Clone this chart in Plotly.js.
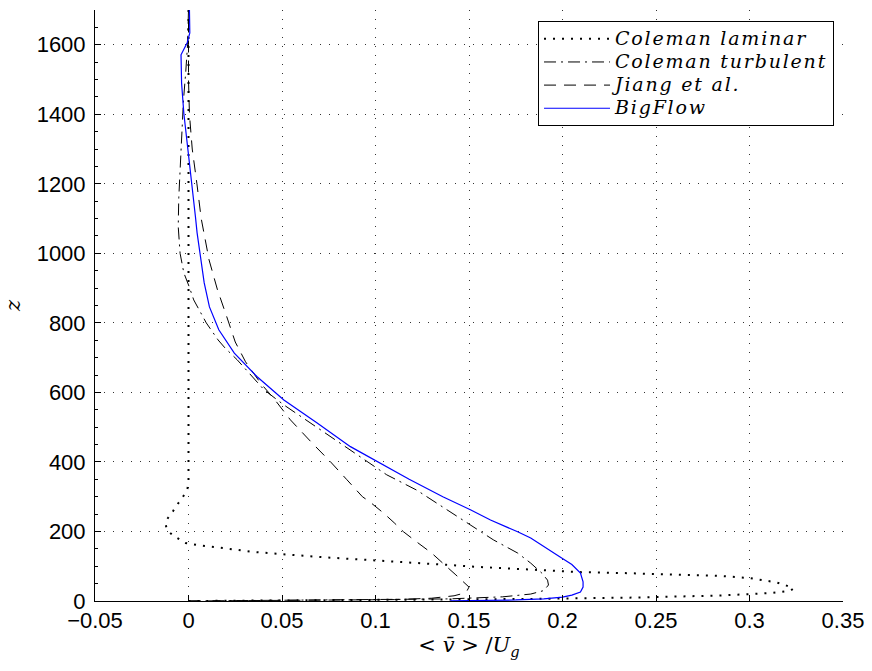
<!DOCTYPE html>
<html>
<head>
<meta charset="utf-8">
<script src="https://cdn.plot.ly/plotly-3.0.1.min.js"></script>
<style>html,body{margin:0;padding:0;background:#fff;}#chart{width:872px;height:671px;}</style>
</head>
<body>
<div id="chart"></div>
<script>
// Coleman laminar (dotted)
const zLaminar = [0, 3, 6, 10, 16, 23, 30, 36, 42, 48, 54, 60, 66, 72, 76, 80, 83, 88, 92, 98, 104, 110, 116, 121, 127, 135, 141, 152, 160, 167, 174, 181, 190, 199, 210, 224, 235, 247, 258, 270, 283, 296, 319, 340, 400, 500, 600, 700, 800, 900, 1000, 1100, 1200, 1300, 1400, 1500, 1600, 1700];
const vLaminar = [0, 0.1, 0.185, 0.24, 0.285, 0.312, 0.322, 0.3235, 0.321, 0.318, 0.314, 0.308, 0.300, 0.285, 0.265, 0.235, 0.21, 0.19, 0.174, 0.155, 0.138, 0.118, 0.104, 0.087, 0.069, 0.051, 0.035, 0.019, 0.006, -0.0016, -0.004, -0.006, -0.0085, -0.0105, -0.0118, -0.0123, -0.0115, -0.0096, -0.0083, -0.007, -0.005, -0.0034, -0.0007, 0, 0, 0, 0, 0, 0, 0, 0, 0, 0, 0, 0, 0, 0, 0];

// Coleman turbulent (dash-dot)
const zTurbulent = [0, 1.5, 3, 6, 12, 20, 30, 46, 60, 80, 109, 138, 176, 224, 270, 319, 363, 411, 443, 463, 500, 564, 607, 636, 665, 694, 728, 751, 800, 829, 866, 905, 944, 1000, 1077, 1160, 1260, 1350, 1440, 1520, 1600, 1700];
const vTurbulent = [0, 0.05, 0.1, 0.139, 0.168, 0.183, 0.19, 0.1925, 0.192, 0.189, 0.183, 0.176, 0.163, 0.149, 0.136, 0.122, 0.106, 0.093, 0.084, 0.079, 0.069, 0.051, 0.0405, 0.0355, 0.031, 0.026, 0.0195, 0.0158, 0.0095, 0.0064, 0.0028, 0.0003, -0.0025, -0.0045, -0.0055, -0.0052, -0.0043, -0.0035, -0.0027, -0.0015, -0.0005, 0];

// Jiang et al. (dashed)
const zJiang = [0, 1, 2, 4, 8, 15, 22, 30, 40, 56, 75, 99, 138, 170, 199, 225, 252, 285, 300, 350, 400, 455, 521, 580, 627, 688, 745, 817, 895, 981, 1100, 1200, 1300, 1400, 1500, 1600, 1700];
const vJiang = [0, 0.04, 0.08, 0.11, 0.13, 0.142, 0.147, 0.149, 0.150, 0.147, 0.143, 0.138, 0.130, 0.122, 0.115, 0.110, 0.1045, 0.097, 0.093, 0.0845, 0.076, 0.066, 0.0545, 0.046, 0.0385, 0.0305, 0.025, 0.0205, 0.0155, 0.011, 0.0068, 0.0045, 0.002, 0.0005, 0, 0, 0];

// BigFlow (solid blue)
const zBigFlow = [0.5, 1.5, 3, 6, 11, 17, 26, 40, 55, 80, 105, 127, 160, 181, 199, 233, 262, 300, 350, 391, 444, 512, 578, 645, 713, 780, 846, 915, 1000, 1059, 1106, 1205, 1298, 1403, 1490, 1571, 1606, 1634, 1700];
const vBigFlow = [0.14, 0.16, 0.175, 0.19, 0.2, 0.205, 0.2096, 0.211, 0.211, 0.2096, 0.205, 0.1985, 0.189, 0.183, 0.176, 0.1615, 0.151, 0.136, 0.118, 0.1045, 0.0866, 0.0688, 0.051, 0.0367, 0.0245, 0.0162, 0.0112, 0.0084, 0.006, 0.0046, 0.0037, 0.0015, -0.0003, -0.0025, -0.0037, -0.004, -0.0007, 0.0007, 0.0005];

const seriesNames = ['Coleman laminar', 'Coleman turbulent', 'Jiang et al.', 'BigFlow'];
const xTickVals = [-0.05, 0, 0.05, 0.1, 0.15, 0.2, 0.25, 0.3, 0.35];
const xTickText = ['\u22120.05', '0', '0.05', '0.1', '0.15', '0.2', '0.25', '0.3', '0.35'];
const yTickVals = [0, 200, 400, 600, 800, 1000, 1200, 1400, 1600];

function legName(s) {
  return '<span style="font-size:19px;font-style:italic;letter-spacing:1.8px">' + s + '</span>';
}

const traces = [
  {x: vLaminar, y: zLaminar, name: legName(seriesNames[0]), mode: 'lines',
   line: {color: '#000', width: 2, dash: '2px,7px'}},
  {x: vTurbulent, y: zTurbulent, name: legName(seriesNames[1]), mode: 'lines',
   line: {color: '#000', width: 1, dash: '12px,5px,2px,5px'}},
  {x: vJiang, y: zJiang, name: legName(seriesNames[2]), mode: 'lines',
   line: {color: '#000', width: 1, dash: '12px,8px'}},
  {x: vBigFlow, y: zBigFlow, name: legName(seriesNames[3]), mode: 'lines',
   line: {color: '#0000ff', width: 1.2}}
];

const layout = {
  width: 872, height: 671,
  margin: {l: 95, r: 29, t: 10, b: 70},
  paper_bgcolor: '#fff', plot_bgcolor: '#fff',
  font: {family: 'Liberation Sans, Arial, sans-serif', size: 22, color: '#000'},
  showlegend: true,
  legend: {
    x: 0.988, y: 0.981, xanchor: 'right', yanchor: 'top',
    bgcolor: '#fff', bordercolor: '#000', borderwidth: 1,
    font: {family: 'DejaVu Serif, serif', size: 15.5, color: '#000'},
    itemwidth: 66, tracegroupgap: 0
  },
  xaxis: {
    range: [-0.05, 0.35], tickvals: xTickVals, ticktext: xTickText,
    showline: true, linecolor: '#000', linewidth: 1, mirror: false,
    ticks: 'inside', ticklen: 6, tickcolor: '#000',
    showgrid: true, gridcolor: '#333', gridwidth: 1, griddash: '1px,8px',
    zeroline: false,
    tickfont: {size: 22, family: 'Liberation Sans, Arial, sans-serif'},
    title: {text: '&lt; <i>v\u0304</i> &gt; /<i>U</i><sub><i>g</i></sub>', font: {family: 'DejaVu Serif, serif', size: 21}, standoff: 0}
  },
  yaxis: {
    range: [0, 1700], tickvals: yTickVals,
    showline: true, linecolor: '#000', linewidth: 1, mirror: false,
    ticks: 'inside', ticklen: 6, tickcolor: '#000', ticklabelstandoff: 4,
    minor: {ticks: 'inside', ticklen: 3, dtick: 50, tickcolor: '#000', showgrid: false},
    showgrid: true, gridcolor: '#333', gridwidth: 1, griddash: '1px,8px',
    zeroline: false,
    tickfont: {size: 22, family: 'Liberation Sans, Arial, sans-serif'},
    title: {text: '<i>z</i>', font: {family: 'DejaVu Serif, serif', size: 21}, standoff: 10}
  }
};

Plotly.newPlot('chart', traces, layout, {displayModeBar: false, staticPlot: true});
</script>
</body>
</html>
